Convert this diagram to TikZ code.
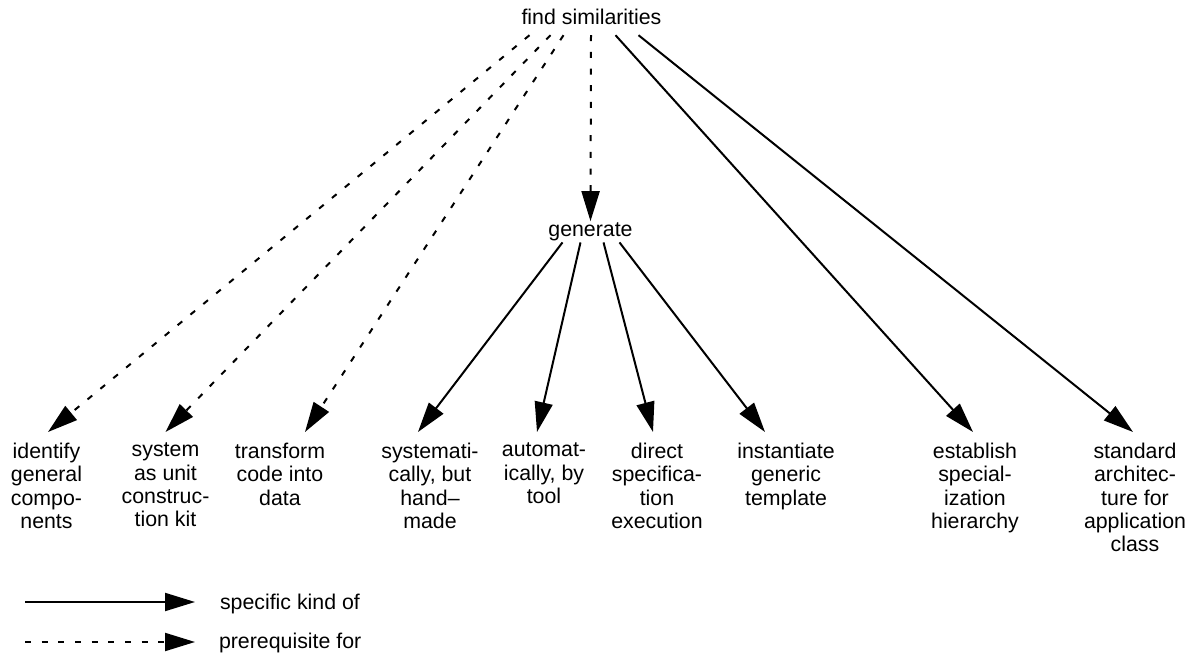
\documentclass[tikz,border=0pt]{standalone}
\usepackage{fontspec}
\setmainfont{Liberation Sans}
\usetikzlibrary{arrows.meta,calc}
\begin{document}
\begin{tikzpicture}[x=0.75pt,y=-0.75pt,
  lbl/.style={font=\fontsize{16}{17.5}\selectfont, inner sep=0pt, outer sep=0pt, align=center},
  leaf/.style={lbl, anchor=north},
  kind/.style={line width=1.5pt, -{Triangle[length=22.5pt,width=13.5pt]}},
  prereq/.style={kind, dash pattern=on 4.5pt off 8pt}]
\useasboundingbox (0,0) rectangle (1193,659);

% top nodes
\node[lbl, anchor=base] (fs) at (591.5,25) {find similarities};
\node[lbl, anchor=base] (gen) at (590.5,237) {generate};

% leaf nodes
\node[leaf] (id) at (46.5,443) {identify\\general\\compo-\\nents};
\node[leaf] (sy) at (165.5,443) {system\\as unit\\construc-\\tion kit};
\node[leaf] (tr) at (280,443) {transform\\code into\\data};
\node[leaf] (sm) at (430,443) {systemati-\\cally, but\\hand–\\made};
\node[leaf] (au) at (544,443) {automat-\\ically, by\\tool};
\node[leaf] (di) at (657,443) {direct\\specifica-\\tion\\execution};
\node[leaf] (in) at (786,443) {instantiate\\generic\\template};
\node[leaf] (es) at (975,443) {establish\\special-\\ization\\hierarchy};
\node[leaf] (st) at (1135,443) {standard\\architec-\\ture for\\application\\class};

% prerequisite connectors
\draw[prereq] ($(fs.south)+(-62,10)$) -- ($(id.north)+(1.5,-11)$);
\draw[prereq] ($(fs.south)+(-41,10)$) -- ($(sy.north)+(0,-11)$);
\draw[prereq] ($(fs.south)+(-28,10)$) -- ($(tr.north)+(25,-11)$);
\draw[prereq] ($(fs.south)+(-0.5,10)$) -- ($(gen.north)+(0,-2)$);

% specific kind connectors
\draw[kind] ($(fs.south)+(24,10)$) -- ($(es.north)+(-2,-11)$);
\draw[kind] ($(fs.south)+(47,10)$) -- ($(st.north)+(-2,-11)$);
\draw[kind] ($(gen.south)+(-28,1)$) -- ($(sm.north)+(-12,-11)$);
\draw[kind] ($(gen.south)+(-10,1)$) -- ($(au.north)+(-7,-11)$);
\draw[kind] ($(gen.south)+(13,1)$) -- ($(di.north)+(-4,-11)$);
\draw[kind] ($(gen.south)+(29,1)$) -- ($(in.north)+(-21,-11)$);

% legend
\coordinate (ls1) at (25,602);
\coordinate (le1) at (195,602);
\coordinate (ls2) at (25,642);
\coordinate (le2) at (195,642);
\draw[kind] (ls1) -- (le1);
\draw[prereq] (ls2) -- (le2);
\node[lbl, anchor=base west] (lk) at (220,609) {specific kind of};
\node[lbl, anchor=base west] (lp) at (219,648) {prerequisite for};
\end{tikzpicture}
\end{document}
